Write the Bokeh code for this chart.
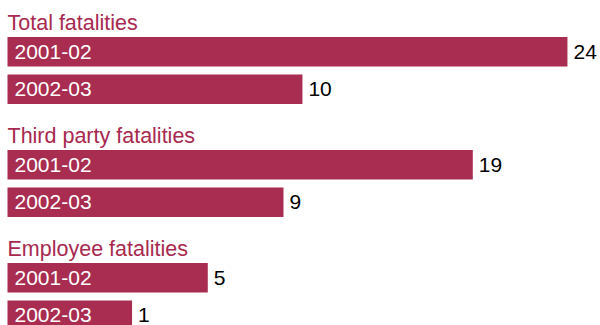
from bokeh.plotting import figure
from bokeh.models import Range1d, ColumnDataSource
from bokeh.core.properties import value
from bokeh.embed import file_html
from bokeh.resources import INLINE

# ---- data ----
groups = ["Total fatalities", "Third party fatalities", "Employee fatalities"]
years = ["2001-02", "2002-03"]
values_2001_02 = [24, 19, 5]
values_2002_03 = [10, 9, 1]

# ---- style / layout ----
BAR_COLOR = "#A82D51"
TITLE_COLOR = "#A8294F"
FONT = "Liberation Sans"
W, H = 600, 325
PX_PER_UNIT = 18.93
BASE = -5.58            # bars start this far left of zero (space for in-bar label)
LEFT_PAD_PX = 7
GROUP_H = 113
TITLE_MID = 22
BAR_TOP = 36.5
BAR_STEP = 37.5
BAR_H = 29.5

x_start = BASE - LEFT_PAD_PX / PX_PER_UNIT
x_end = x_start + W / PX_PER_UNIT

p = figure(width=W, height=H, output_backend="svg", toolbar_location=None,
           x_range=Range1d(x_start, x_end), y_range=Range1d(H, 0),
           min_border=0, min_border_left=0, min_border_right=0,
           min_border_top=0, min_border_bottom=0)
p.axis.visible = False
p.xgrid.visible = False
p.ygrid.visible = False
p.outline_line_color = None
p.background_fill_color = "white"
p.border_fill_color = "white"

bar_y, bar_v, bar_lab = [], [], []
title_y = []
for g, name in enumerate(groups):
    top = g * GROUP_H
    title_y.append(top + TITLE_MID)
    for i, vals in enumerate([values_2001_02, values_2002_03]):
        bar_y.append(top + BAR_TOP + i * BAR_STEP + BAR_H / 2)
        bar_v.append(vals[g])
        bar_lab.append(years[i])

src = ColumnDataSource(dict(y=bar_y, v=bar_v, lab=bar_lab,
                            vtxt=[str(v) for v in bar_v],
                            base=[BASE] * len(bar_v)))

p.hbar(y="y", left="base", right="v", height=BAR_H, source=src,
       fill_color=BAR_COLOR, line_color=None)

p.text(x="base", y="y", text="lab", source=src, x_offset=7,
       text_color="white", text_font=value(FONT), text_font_size="21px",
       text_baseline="middle", text_align="left")

p.text(x="v", y="y", text="vtxt", source=src, x_offset=6,
       text_color="black", text_font=value(FONT), text_font_size="21px",
       text_baseline="middle", text_align="left")

tsrc = ColumnDataSource(dict(x=[x_start] * len(groups), y=title_y, t=groups))
p.text(x="x", y="y", text="t", source=tsrc, x_offset=LEFT_PAD_PX,
       text_color=TITLE_COLOR, text_font=value(FONT), text_font_size="21.5px",
       text_baseline="middle", text_align="left")

open("out.html", "w").write(file_html(p, INLINE))
